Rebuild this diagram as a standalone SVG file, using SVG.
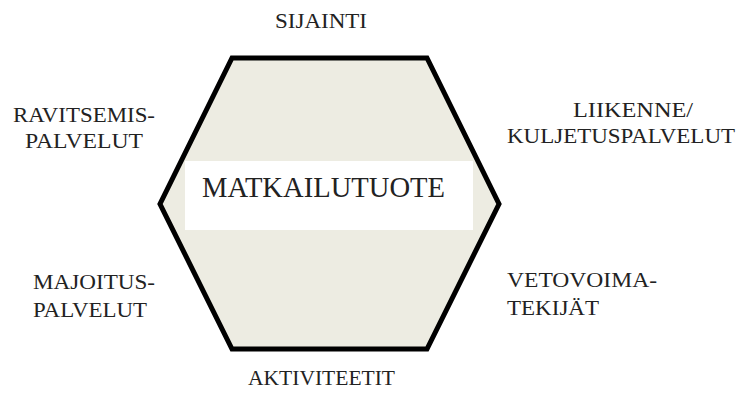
<svg xmlns="http://www.w3.org/2000/svg" width="741" height="394" viewBox="0 0 741 394">
<style>
.lbl{font-family:"Liberation Serif","Times New Roman",serif;font-size:22px;fill:#222;}
.title{font-family:"Liberation Serif","Times New Roman",serif;font-size:29px;fill:#222;}
</style>
<rect width="741" height="394" fill="#fff"/>
<g id="hexagon">
<polygon points="232,58 427,58 499,204 427,349 232,349 160,204" fill="#EDECE2" stroke="#000" stroke-width="5" stroke-linejoin="miter"/>
</g>
<g id="center">
<rect x="185" y="161" width="288" height="69" fill="#fff"/>
<text class="title" x="202" y="197" textLength="243" lengthAdjust="spacingAndGlyphs">MATKAILUTUOTE</text>
</g>
<g id="sijainti"><text class="lbl" x="275" y="28" textLength="92" lengthAdjust="spacingAndGlyphs">SIJAINTI</text></g>
<g id="ravitsemis">
<text class="lbl" x="13" y="122" textLength="142" lengthAdjust="spacingAndGlyphs">RAVITSEMIS-</text>
<text class="lbl" x="25" y="148" textLength="118" lengthAdjust="spacingAndGlyphs">PALVELUT</text>
</g>
<g id="liikenne">
<text class="lbl" x="573" y="117" textLength="120" lengthAdjust="spacingAndGlyphs">LIIKENNE/</text>
<text class="lbl" x="507" y="143" textLength="228" lengthAdjust="spacingAndGlyphs">KULJETUSPALVELUT</text>
</g>
<g id="majoitus">
<text class="lbl" x="33" y="289" textLength="122" lengthAdjust="spacingAndGlyphs">MAJOITUS-</text>
<text class="lbl" x="33" y="317" textLength="114" lengthAdjust="spacingAndGlyphs">PALVELUT</text>
</g>
<g id="vetovoima">
<text class="lbl" x="507" y="287" textLength="150" lengthAdjust="spacingAndGlyphs">VETOVOIMA-</text>
<text class="lbl" x="507" y="315" textLength="92" lengthAdjust="spacingAndGlyphs">TEKIJÄT</text>
</g>
<g id="aktiviteetit"><text class="lbl" x="248" y="385" textLength="147" lengthAdjust="spacingAndGlyphs">AKTIVITEETIT</text></g>
<g id="connectors"></g>
</svg>
